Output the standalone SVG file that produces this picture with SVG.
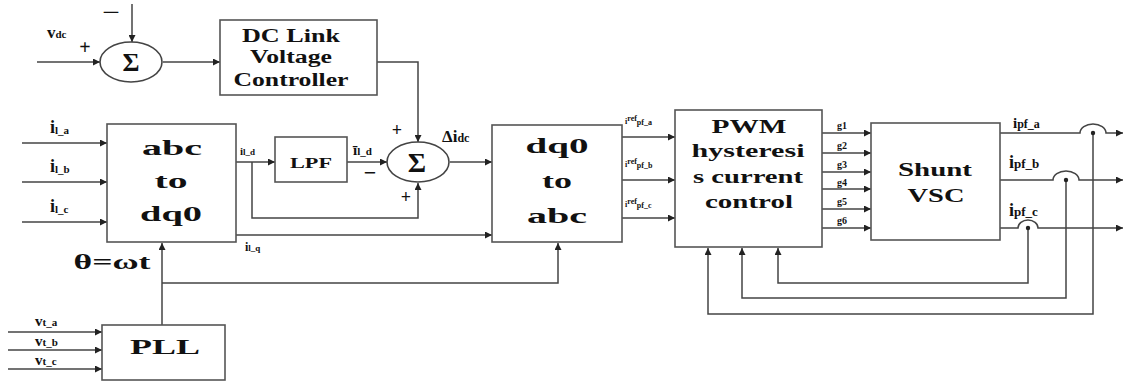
<svg xmlns="http://www.w3.org/2000/svg" width="1125" height="385" viewBox="0 0 1125 385">
<style>
.box{fill:#fff;stroke:#555;stroke-width:1.6}
.sum{fill:#fff;stroke:#444;stroke-width:1.6}
.ln{fill:none;stroke:#444;stroke-width:1.5}
.arr{fill:none;stroke:#444;stroke-width:1.5;marker-end:url(#ah)}
.t{font-family:"Liberation Serif","Times New Roman",serif;font-weight:bold;fill:#111}
.big{font-size:22px}
.lab{font-size:18px}
.sub{font-size:11px}
.g{font-size:10px}
</style>
<defs>
<marker id="ah" viewBox="0 0 10 10" refX="10" refY="5" markerWidth="9" markerHeight="7" markerUnits="userSpaceOnUse" orient="auto">
<path d="M0,0 L10,5 L0,10 z" fill="#222"/>
</marker>
</defs>
<rect width="1125" height="385" fill="#fff"/>

<g id="connectors">
<line class="arr" x1="37" y1="62" x2="100" y2="62"/>
<line class="arr" x1="132" y1="4" x2="132" y2="42"/>
<line class="arr" x1="163" y1="62" x2="220" y2="62"/>
<polyline class="arr" points="377,62 418,62 418,142"/>
<line class="arr" x1="22" y1="143" x2="107" y2="143"/>
<line class="arr" x1="22" y1="182" x2="107" y2="182"/>
<line class="arr" x1="22" y1="222" x2="107" y2="222"/>
<line class="arr" x1="162" y1="325" x2="162" y2="243"/>
<polyline class="arr" points="162,283 558,283 558,243"/>
<line class="arr" x1="236" y1="162" x2="275" y2="162"/>
<line class="arr" x1="347" y1="162" x2="387" y2="162"/>
<polyline class="arr" points="252,162 252,218 418,218 418,183"/>
<line class="arr" x1="450" y1="162" x2="492" y2="162"/>
<line class="arr" x1="236" y1="235" x2="492" y2="235"/>
<line class="arr" x1="622" y1="137" x2="675" y2="137"/>
<line class="arr" x1="622" y1="180" x2="675" y2="180"/>
<line class="arr" x1="622" y1="218" x2="675" y2="218"/>
<line class="arr" x1="822" y1="133" x2="871" y2="133"/>
<line class="arr" x1="822" y1="153" x2="871" y2="153"/>
<line class="arr" x1="822" y1="172" x2="871" y2="172"/>
<line class="arr" x1="822" y1="189" x2="871" y2="189"/>
<line class="arr" x1="822" y1="209" x2="871" y2="209"/>
<line class="arr" x1="822" y1="228" x2="871" y2="228"/>
<path class="arr" d="M1000,133 H1080 A13,9 0 0 1 1106,133 H1123"/>
<path class="arr" d="M1000,180 H1053 A13,9 0 0 1 1079,180 H1123"/>
<path class="arr" d="M1000,228 H1018 A10,8 0 0 1 1038,228 H1123"/>
<polyline class="arr" points="1028,228 1028,283 778,283 778,248"/>
<polyline class="arr" points="1066,180 1066,298 742,298 742,248"/>
<polyline class="arr" points="1093,133 1093,314 708,314 708,248"/>
<circle cx="1028" cy="228" r="2.2" fill="#222"/>
<circle cx="1066" cy="180" r="2.2" fill="#222"/>
<circle cx="1093" cy="133" r="2.2" fill="#222"/>
<line class="arr" x1="8" y1="332" x2="102" y2="332"/>
<line class="arr" x1="8" y1="350" x2="102" y2="350"/>
<line class="arr" x1="8" y1="369" x2="102" y2="369"/>
</g>

<g id="sum1">
<ellipse class="sum" cx="131" cy="62" rx="31" ry="20"/>
<text class="t" x="131" y="71" font-size="26" text-anchor="middle">Σ</text>
</g>

<g id="dclink">
<rect class="box" x="220" y="20" width="157" height="75"/>
<text class="t" x="291" y="42" font-size="19" text-anchor="middle" textLength="98" lengthAdjust="spacingAndGlyphs">DC Link</text>
<text class="t" x="291" y="63" font-size="18" text-anchor="middle" textLength="82" lengthAdjust="spacingAndGlyphs">Voltage</text>
<text class="t" x="291" y="86" font-size="19" text-anchor="middle" textLength="115" lengthAdjust="spacingAndGlyphs">Controller</text>
</g>

<g id="abc2dq0">
<rect class="box" x="107" y="124" width="129" height="118"/>
<text class="t big" x="172" y="155" text-anchor="middle" textLength="60" lengthAdjust="spacingAndGlyphs">abc</text>
<text class="t big" x="171" y="188" text-anchor="middle" textLength="33" lengthAdjust="spacingAndGlyphs">to</text>
<text class="t big" x="171" y="221" text-anchor="middle" textLength="62" lengthAdjust="spacingAndGlyphs">dq0</text>
</g>

<g id="lpf">
<rect class="box" x="275" y="137" width="72" height="45"/>
<text class="t" x="311" y="168" font-size="14" text-anchor="middle" textLength="42" lengthAdjust="spacingAndGlyphs">LPF</text>
</g>

<g id="sum2">
<ellipse class="sum" cx="418" cy="162" rx="31" ry="20"/>
<text class="t" x="417" y="172" font-size="28" text-anchor="middle">Σ</text>
</g>

<g id="dq02abc">
<rect class="box" x="492" y="125" width="130" height="117"/>
<text class="t big" x="557" y="153" text-anchor="middle" textLength="63" lengthAdjust="spacingAndGlyphs">dq0</text>
<text class="t big" x="557" y="188" text-anchor="middle" textLength="30" lengthAdjust="spacingAndGlyphs">to</text>
<text class="t big" x="557" y="223" text-anchor="middle" textLength="60" lengthAdjust="spacingAndGlyphs">abc</text>
</g>

<g id="pwm">
<rect class="box" x="675" y="110" width="147" height="137"/>
<text class="t" x="749" y="133" font-size="18" text-anchor="middle" textLength="75" lengthAdjust="spacingAndGlyphs">PWM</text>
<text class="t" x="748" y="157" font-size="18" text-anchor="middle" textLength="113" lengthAdjust="spacingAndGlyphs">hysteresi</text>
<text class="t" x="748" y="183" font-size="18" text-anchor="middle" textLength="110" lengthAdjust="spacingAndGlyphs">s current</text>
<text class="t" x="749" y="208" font-size="18" text-anchor="middle" textLength="88" lengthAdjust="spacingAndGlyphs">control</text>
</g>

<g id="vsc">
<rect class="box" x="871" y="123" width="129" height="117"/>
<text class="t" x="935" y="176" font-size="19" text-anchor="middle" textLength="74" lengthAdjust="spacingAndGlyphs">Shunt</text>
<text class="t" x="936" y="202" font-size="19" text-anchor="middle" textLength="57" lengthAdjust="spacingAndGlyphs">VSC</text>
</g>

<g id="pll">
<rect class="box" x="102" y="325" width="123" height="55"/>
<text class="t" x="165" y="354" font-size="22" text-anchor="middle" textLength="70" lengthAdjust="spacingAndGlyphs">PLL</text>
</g>

<g id="labels">
<text class="t" x="47" y="38"><tspan font-size="17">v</tspan><tspan font-size="11">dc</tspan></text>
<text class="t" x="85" y="54" font-size="20" text-anchor="middle">+</text>
<text class="t" x="111" y="18" font-size="18" text-anchor="middle" textLength="18" lengthAdjust="spacingAndGlyphs">−</text>

<text class="t" x="50" y="133"><tspan class="lab">i</tspan><tspan class="sub" dy="1">l_a</tspan></text>
<text class="t" x="50" y="172"><tspan class="lab">i</tspan><tspan class="sub" dy="1">l_b</tspan></text>
<text class="t" x="50" y="212"><tspan class="lab">i</tspan><tspan class="sub" dy="1">l_c</tspan></text>
<text class="t" x="112" y="269" font-size="20" text-anchor="middle" textLength="77" lengthAdjust="spacingAndGlyphs">θ=ωt</text>

<text class="t" x="240" y="155" font-size="11">i<tspan font-size="9">l_d</tspan></text>
<text class="t" x="353" y="155"><tspan font-size="15">ī</tspan><tspan font-size="11">l_d</tspan></text>
<text class="t" x="370" y="180" font-size="22" text-anchor="middle">−</text>
<text class="t" x="397" y="136" font-size="18" text-anchor="middle">+</text>
<text class="t" x="406" y="203" font-size="18" text-anchor="middle">+</text>
<text class="t" x="442" y="142"><tspan font-size="17">Δi</tspan><tspan font-size="12">dc</tspan></text>
<text class="t" x="245" y="251" font-size="12">i<tspan font-size="9">l_q</tspan></text>

<text class="t" x="625" y="124" font-size="8">i<tspan dy="-3">ref</tspan><tspan dy="4">pf_a</tspan></text>
<text class="t" x="625" y="167" font-size="8">i<tspan dy="-3">ref</tspan><tspan dy="4">pf_b</tspan></text>
<text class="t" x="625" y="207" font-size="8">i<tspan dy="-3">ref</tspan><tspan dy="4">pf_c</tspan></text>

<text class="t g" x="837" y="129">g1</text>
<text class="t g" x="837" y="149">g2</text>
<text class="t g" x="837" y="168">g3</text>
<text class="t g" x="837" y="186">g4</text>
<text class="t g" x="837" y="205">g5</text>
<text class="t g" x="837" y="224">g6</text>

<text class="t" x="1013" y="128"><tspan font-size="15">i</tspan><tspan font-size="12">pf_a</tspan></text>
<text class="t" x="1009" y="168"><tspan font-size="18">i</tspan><tspan font-size="13">pf_b</tspan></text>
<text class="t" x="1009" y="216"><tspan font-size="18">i</tspan><tspan font-size="13">pf_c</tspan></text>

<text class="t" x="35" y="326"><tspan font-size="15">v</tspan><tspan font-size="11">t_a</tspan></text>
<text class="t" x="35" y="346"><tspan font-size="15">v</tspan><tspan font-size="11">t_b</tspan></text>
<text class="t" x="35" y="365"><tspan font-size="15">v</tspan><tspan font-size="11">t_c</tspan></text>
</g>
</svg>
